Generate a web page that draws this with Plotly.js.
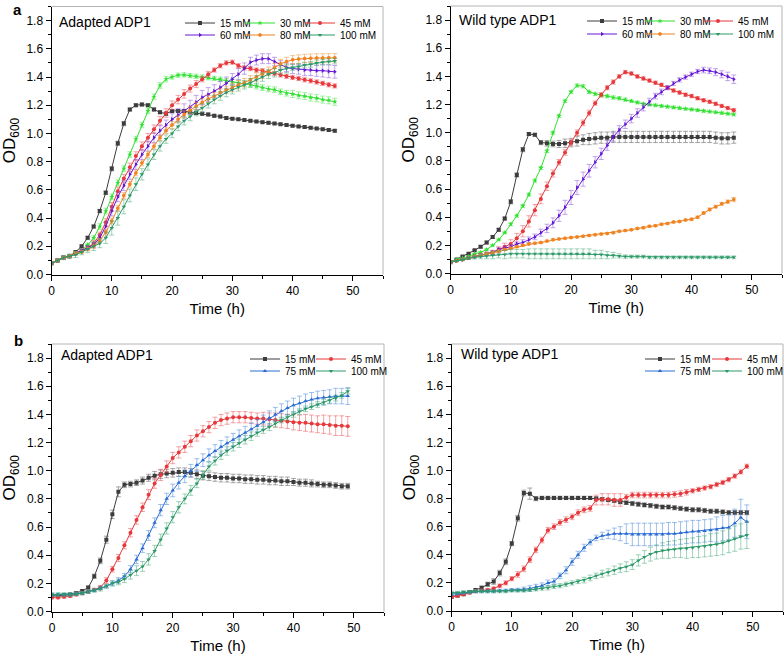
<!DOCTYPE html>
<html><head><meta charset="utf-8">
<script src="https://cdn.plot.ly/plotly-3.0.1.min.js"></script>
<style>html,body{margin:0;padding:0;background:#fff}#chart{width:784px;height:654px}</style>
</head><body><div id="chart"></div>
<script>
// ---------- time points (h) ----------
const hoursA = [0,1,2,3,4,5,6,7,8,9,10,11,12,13,14,15,16,17,18,19,20,21,22,23,24,25,26,27,28,29,30,31,32,33,34,35,36,37,38,39,40,41,42,43,44,45,46,47];
const hoursB = [0,1,2,3,4,5,6,7,8,9,10,11,12,13,14,15,16,17,18,19,20,21,22,23,24,25,26,27,28,29,30,31,32,33,34,35,36,37,38,39,40,41,42,43,44,45,46,47,48,49];

const namesA = ['15 mM','30 mM','45 mM','60 mM','80 mM','100 mM'];
const namesB = ['15 mM','45 mM','75 mM','100 mM'];

// ---------- panel a, Adapted ADP1 ----------
const adA_15 = [0.08,0.10,0.12,0.13,0.16,0.20,0.26,0.34,0.45,0.58, 0.75,0.93,1.07,1.17,1.20,1.205,1.20,1.17,1.15,1.14, 1.16,1.16,1.16,1.15,1.145,1.14,1.135,1.125,1.12,1.11, 1.105,1.10,1.095,1.09,1.085,1.08,1.075,1.07,1.065,1.06, 1.055,1.05,1.045,1.04,1.035,1.03,1.025,1.02];
const adA_30 = [0.08,0.10,0.12,0.13,0.15,0.17,0.21,0.26,0.34,0.45, 0.55,0.65,0.75,0.85,0.96,1.06,1.16,1.26,1.34,1.385, 1.40,1.413,1.415,1.41,1.405,1.40,1.395,1.39,1.385,1.375, 1.365,1.36,1.35,1.345,1.335,1.325,1.315,1.31,1.295,1.285, 1.28,1.27,1.265,1.255,1.25,1.24,1.235,1.225];
const adA_45 = [0.08,0.10,0.12,0.13,0.15,0.17,0.19,0.22,0.28,0.37, 0.48,0.59,0.68,0.76,0.84,0.91,0.97,1.03,1.09,1.145, 1.20,1.24,1.28,1.318,1.35,1.385,1.42,1.45,1.48,1.50, 1.505,1.48,1.465,1.46,1.45,1.445,1.435,1.425,1.415,1.405, 1.397,1.39,1.38,1.373,1.365,1.355,1.345,1.337];
const adA_60 = [0.08,0.10,0.12,0.13,0.15,0.17,0.19,0.21,0.26,0.34, 0.45,0.55,0.63,0.71,0.78,0.85,0.91,0.97,1.02,1.06, 1.10,1.13,1.16,1.185,1.22,1.255,1.275,1.30,1.325,1.355, 1.385,1.42,1.46,1.505,1.52,1.53,1.53,1.51,1.485,1.468, 1.46,1.455,1.45,1.45,1.445,1.445,1.44,1.437];
const adA_80 = [0.08,0.10,0.12,0.13,0.15,0.16,0.18,0.20,0.24,0.30, 0.38,0.47,0.56,0.64,0.72,0.79,0.85,0.91,0.97,1.02, 1.06,1.10,1.135,1.165,1.195,1.22,1.245,1.265,1.29,1.31, 1.326,1.345,1.36,1.38,1.40,1.42,1.44,1.465,1.495,1.51, 1.522,1.527,1.531,1.533,1.535,1.535,1.536,1.536];
const adA_100 = [0.08,0.10,0.12,0.13,0.14,0.16,0.18,0.20,0.22,0.26, 0.33,0.40,0.48,0.56,0.64,0.71,0.78,0.85,0.91,0.96, 1.00,1.05,1.09,1.12,1.155,1.18,1.21,1.24,1.265,1.29, 1.31,1.33,1.345,1.36,1.38,1.40,1.42,1.43,1.45,1.46, 1.468,1.475,1.485,1.49,1.50,1.505,1.51,1.513];

const errAdA_15 = [0.005,0.005,0.005,0.006,0.006,0.008,0.01,0.01,0.012,0.012, 0.015,0.015,0.015,0.01,0.01,0.01,0.01,0.01,0.01,0.01, 0.01,0.01,0.01,0.01,0.01,0.01,0.01,0.01,0.01,0.01, 0.008,0.008,0.008,0.008,0.008,0.008,0.008,0.008,0.008,0.008, 0.008,0.008,0.008,0.008,0.008,0.008,0.008,0.008];
const errAdA_30 = [0.01,0.01,0.01,0.01,0.01,0.01,0.012,0.015,0.02,0.02, 0.02,0.02,0.02,0.02,0.02,0.02,0.02,0.02,0.02,0.02, 0.015,0.015,0.015,0.015,0.015,0.015,0.015,0.015,0.015,0.015, 0.02,0.02,0.02,0.02,0.02,0.02,0.02,0.02,0.02,0.02, 0.025,0.025,0.025,0.025,0.025,0.025,0.025,0.025];
const errAdA_45 = [0.01,0.01,0.01,0.01,0.01,0.01,0.015,0.02,0.02,0.025, 0.03,0.03,0.03,0.03,0.03,0.03,0.03,0.03,0.03,0.03, 0.03,0.03,0.03,0.025,0.025,0.02,0.02,0.015,0.015,0.015, 0.015,0.015,0.015,0.015,0.015,0.015,0.015,0.015,0.015,0.015, 0.015,0.015,0.015,0.015,0.015,0.015,0.015,0.015];
const errAdA_60 = [0.01,0.01,0.01,0.01,0.01,0.01,0.015,0.02,0.025,0.03, 0.035,0.035,0.035,0.035,0.035,0.035,0.035,0.035,0.035,0.035, 0.04,0.045,0.05,0.05,0.05,0.05,0.05,0.045,0.045,0.045, 0.04,0.04,0.04,0.035,0.035,0.035,0.035,0.03,0.03,0.03, 0.035,0.035,0.04,0.04,0.04,0.045,0.045,0.045];
const errAdA_80 = [0.01,0.01,0.01,0.01,0.01,0.01,0.012,0.015,0.015,0.02, 0.02,0.02,0.02,0.02,0.02,0.02,0.02,0.02,0.02,0.02, 0.025,0.025,0.025,0.025,0.025,0.025,0.025,0.025,0.025,0.025, 0.03,0.03,0.03,0.03,0.03,0.03,0.03,0.03,0.03,0.03, 0.03,0.03,0.03,0.03,0.03,0.03,0.03,0.03];
const errAdA_100 = [0.01,0.01,0.015,0.015,0.02,0.02,0.025,0.03,0.03,0.04, 0.05,0.05,0.05,0.045,0.045,0.04,0.04,0.035,0.035,0.03, 0.03,0.03,0.03,0.03,0.03,0.03,0.03,0.03,0.03,0.03, 0.03,0.03,0.03,0.03,0.03,0.03,0.03,0.03,0.03,0.03, 0.02,0.02,0.02,0.02,0.02,0.02,0.02,0.02];

// ---------- panel a, Wild type ADP1 ----------
const wtA_15 = [0.08,0.10,0.12,0.14,0.165,0.19,0.22,0.26,0.31,0.39, 0.51,0.70,0.88,0.99,0.985,0.93,0.925,0.92,0.92,0.925, 0.93,0.94,0.95,0.955,0.96,0.965,0.965,0.97,0.97,0.97, 0.97,0.97,0.97,0.97,0.97,0.97,0.97,0.97,0.97,0.97, 0.97,0.97,0.97,0.97,0.965,0.96,0.96,0.965];
const wtA_30 = [0.08,0.10,0.11,0.12,0.14,0.15,0.17,0.20,0.24,0.29, 0.35,0.41,0.48,0.56,0.66,0.75,0.87,1.00,1.12,1.225, 1.29,1.335,1.33,1.29,1.275,1.265,1.26,1.25,1.245,1.235, 1.225,1.215,1.205,1.20,1.195,1.19,1.185,1.18,1.175,1.17, 1.165,1.16,1.155,1.15,1.145,1.14,1.135,1.13];
const wtA_45 = [0.08,0.09,0.10,0.11,0.12,0.13,0.14,0.15,0.17,0.19, 0.21,0.25,0.30,0.37,0.45,0.53,0.62,0.71,0.79,0.86, 0.93,1.00,1.07,1.14,1.21,1.27,1.32,1.36,1.40,1.43, 1.42,1.40,1.385,1.37,1.355,1.34,1.32,1.30,1.285,1.27, 1.26,1.245,1.23,1.22,1.205,1.19,1.175,1.16];
const wtA_60 = [0.08,0.09,0.10,0.11,0.12,0.13,0.14,0.15,0.17,0.18, 0.19,0.21,0.22,0.24,0.26,0.29,0.32,0.36,0.41,0.47, 0.54,0.61,0.67,0.73,0.79,0.85,0.91,0.97,1.02,1.06, 1.10,1.14,1.18,1.22,1.26,1.29,1.32,1.35,1.375,1.395, 1.415,1.435,1.445,1.44,1.43,1.415,1.40,1.38];
const wtA_80 = [0.08,0.09,0.10,0.11,0.12,0.13,0.14,0.15,0.16,0.17, 0.18,0.19,0.20,0.21,0.215,0.22,0.23,0.24,0.245,0.25, 0.255,0.26,0.265,0.27,0.275,0.28,0.285,0.29,0.30,0.305, 0.31,0.32,0.325,0.335,0.34,0.35,0.355,0.365,0.37,0.38, 0.385,0.40,0.43,0.455,0.475,0.495,0.51,0.525];
const wtA_100 = [0.08,0.09,0.10,0.11,0.115,0.12,0.125,0.13,0.135,0.135, 0.14,0.14,0.14,0.14,0.14,0.14,0.14,0.14,0.14,0.14, 0.14,0.14,0.14,0.14,0.135,0.135,0.13,0.13,0.125,0.12, 0.12,0.12,0.12,0.115,0.115,0.115,0.115,0.115,0.115,0.115, 0.115,0.115,0.115,0.115,0.115,0.115,0.115,0.115];

const errWtA_15 = [0.005,0.005,0.005,0.006,0.006,0.008,0.01,0.01,0.01,0.01, 0.015,0.015,0.015,0.01,0.01,0.015,0.02,0.02,0.025,0.03, 0.03,0.035,0.035,0.04,0.04,0.04,0.04,0.04,0.04,0.04, 0.04,0.04,0.04,0.04,0.04,0.04,0.04,0.04,0.04,0.04, 0.04,0.04,0.04,0.04,0.04,0.04,0.04,0.04];
const errWtA_30 = [0.005,0.005,0.005,0.005,0.005,0.005,0.005,0.005,0.005,0.005, 0.01,0.01,0.01,0.01,0.01,0.01,0.01,0.01,0.01,0.01, 0.01,0.012,0.012,0.012,0.012,0.012,0.012,0.012,0.012,0.012, 0.01,0.01,0.01,0.01,0.01,0.01,0.01,0.01,0.01,0.01, 0.01,0.01,0.01,0.01,0.01,0.01,0.01,0.01];
const errWtA_45 = [0.005,0.005,0.005,0.006,0.008,0.01,0.012,0.015,0.02,0.025, 0.03,0.035,0.04,0.04,0.04,0.035,0.03,0.025,0.02,0.02, 0.02,0.02,0.02,0.02,0.015,0.015,0.015,0.015,0.012,0.012, 0.012,0.012,0.012,0.012,0.012,0.012,0.012,0.012,0.012,0.012, 0.012,0.012,0.012,0.012,0.012,0.012,0.012,0.012];
const errWtA_60 = [0.005,0.005,0.005,0.006,0.008,0.01,0.01,0.012,0.012,0.015, 0.015,0.015,0.02,0.02,0.02,0.025,0.03,0.035,0.04,0.05, 0.05,0.05,0.05,0.045,0.04,0.04,0.035,0.03,0.03,0.03, 0.03,0.03,0.025,0.025,0.02,0.02,0.015,0.015,0.015,0.015, 0.015,0.015,0.02,0.02,0.025,0.025,0.03,0.03];
const errWtA_80 = [0.006,0.006,0.006,0.006,0.006,0.006,0.006,0.006,0.006,0.006, 0.006,0.006,0.006,0.006,0.006,0.006,0.006,0.006,0.006,0.006, 0.006,0.006,0.006,0.006,0.006,0.006,0.006,0.006,0.006,0.006, 0.006,0.006,0.006,0.006,0.006,0.006,0.006,0.006,0.006,0.006, 0.008,0.008,0.008,0.01,0.01,0.01,0.012,0.015];
const errWtA_100 = [0.005,0.005,0.008,0.01,0.012,0.015,0.02,0.025,0.025,0.03, 0.03,0.03,0.03,0.035,0.035,0.035,0.035,0.035,0.035,0.035, 0.035,0.035,0.035,0.035,0.03,0.03,0.025,0.02,0.015,0.012, 0.01,0.01,0.01,0.01,0.01,0.01,0.01,0.01,0.01,0.01, 0.01,0.01,0.01,0.01,0.01,0.01,0.01,0.01];

// ---------- panel b, Adapted ADP1 ----------
const adB_15 = [0.11,0.11,0.115,0.12,0.13,0.145,0.17,0.25,0.36,0.51, 0.69,0.85,0.90,0.905,0.915,0.93,0.95,0.965,0.975,0.98, 0.985,0.99,0.99,0.985,0.975,0.965,0.96,0.955,0.95,0.95, 0.945,0.945,0.94,0.94,0.935,0.935,0.93,0.93,0.925,0.925, 0.92,0.915,0.915,0.91,0.905,0.90,0.90,0.895,0.89,0.89];
const adB_45 = [0.10,0.10,0.105,0.11,0.12,0.13,0.14,0.155,0.17,0.22, 0.30,0.38,0.47,0.56,0.65,0.74,0.83,0.91,0.97,1.03, 1.09,1.13,1.17,1.21,1.25,1.28,1.31,1.34,1.36,1.37, 1.38,1.38,1.38,1.375,1.37,1.37,1.365,1.36,1.355,1.35, 1.345,1.34,1.34,1.335,1.33,1.33,1.325,1.32,1.32,1.315];
const adB_75 = [0.12,0.12,0.12,0.12,0.125,0.13,0.14,0.15,0.165,0.18, 0.20,0.22,0.25,0.30,0.37,0.45,0.54,0.63,0.72,0.80, 0.86,0.915,0.96,1.00,1.04,1.075,1.11,1.14,1.17,1.195, 1.22,1.245,1.27,1.295,1.32,1.345,1.375,1.40,1.425,1.445, 1.465,1.48,1.495,1.505,1.515,1.52,1.525,1.53,1.53,1.53];
const adB_100 = [0.12,0.12,0.12,0.12,0.125,0.13,0.14,0.15,0.16,0.18, 0.20,0.21,0.23,0.26,0.29,0.32,0.37,0.43,0.51,0.59, 0.67,0.74,0.80,0.86,0.91,0.97,1.03,1.07,1.11,1.14, 1.17,1.195,1.22,1.245,1.27,1.29,1.31,1.335,1.36,1.38, 1.40,1.42,1.44,1.455,1.47,1.485,1.50,1.515,1.535,1.565];

const errAdB_15 = [0.01,0.01,0.01,0.01,0.01,0.01,0.01,0.015,0.02,0.025, 0.03,0.035,0.02,0.02,0.02,0.025,0.025,0.03,0.03,0.03, 0.03,0.03,0.03,0.03,0.03,0.03,0.03,0.03,0.03,0.03, 0.03,0.03,0.03,0.03,0.03,0.03,0.03,0.03,0.03,0.03, 0.025,0.025,0.025,0.025,0.02,0.02,0.02,0.02,0.02,0.02];
const errAdB_45 = [0.01,0.01,0.01,0.01,0.01,0.01,0.01,0.01,0.015,0.02, 0.02,0.025,0.025,0.03,0.03,0.03,0.035,0.035,0.04,0.04, 0.04,0.04,0.04,0.04,0.04,0.04,0.04,0.04,0.04,0.04, 0.04,0.04,0.04,0.04,0.04,0.045,0.045,0.05,0.05,0.05, 0.055,0.055,0.06,0.06,0.06,0.065,0.065,0.07,0.07,0.07];
const errAdB_75 = [0.01,0.01,0.01,0.01,0.01,0.01,0.01,0.01,0.01,0.012, 0.015,0.02,0.02,0.025,0.03,0.03,0.035,0.035,0.04,0.04, 0.045,0.045,0.045,0.045,0.045,0.045,0.045,0.045,0.045,0.045, 0.045,0.045,0.045,0.045,0.045,0.05,0.05,0.05,0.05,0.05, 0.05,0.05,0.05,0.05,0.05,0.05,0.05,0.055,0.055,0.06];
const errAdB_100 = [0.012,0.012,0.012,0.012,0.012,0.012,0.012,0.012,0.015,0.015, 0.02,0.02,0.025,0.03,0.035,0.035,0.04,0.04,0.04,0.04, 0.04,0.04,0.035,0.035,0.03,0.03,0.03,0.03,0.03,0.03, 0.03,0.03,0.03,0.03,0.025,0.025,0.025,0.025,0.02,0.02, 0.02,0.02,0.02,0.02,0.02,0.02,0.02,0.02,0.02,0.02];

// ---------- panel b, Wild type ADP1 ----------
const wtB_15 = [0.10,0.11,0.12,0.135,0.15,0.165,0.19,0.21,0.27,0.35, 0.48,0.66,0.84,0.835,0.80,0.805,0.805,0.805,0.805,0.805, 0.805,0.805,0.805,0.805,0.80,0.795,0.79,0.785,0.775,0.77, 0.765,0.76,0.755,0.75,0.745,0.74,0.74,0.735,0.73,0.725, 0.72,0.72,0.715,0.71,0.71,0.705,0.70,0.70,0.70,0.70];
const wtB_45 = [0.10,0.11,0.12,0.13,0.14,0.145,0.15,0.16,0.18,0.20, 0.23,0.26,0.30,0.365,0.435,0.505,0.575,0.60,0.63,0.65, 0.67,0.70,0.72,0.73,0.79,0.795,0.795,0.79,0.79,0.81, 0.825,0.825,0.825,0.825,0.825,0.825,0.825,0.83,0.835,0.845, 0.855,0.865,0.875,0.885,0.90,0.915,0.935,0.96,0.99,1.03];
const wtB_75 = [0.12,0.125,0.13,0.135,0.14,0.14,0.14,0.14,0.145,0.145, 0.15,0.15,0.155,0.16,0.17,0.18,0.20,0.21,0.25,0.29, 0.35,0.40,0.45,0.49,0.52,0.535,0.545,0.55,0.55,0.55, 0.545,0.545,0.545,0.545,0.545,0.545,0.55,0.55,0.555,0.56, 0.565,0.565,0.57,0.575,0.58,0.59,0.595,0.625,0.665,0.635];
const wtB_100 = [0.13,0.13,0.135,0.135,0.14,0.14,0.14,0.14,0.14,0.14, 0.145,0.145,0.145,0.15,0.155,0.16,0.165,0.175,0.18,0.19, 0.20,0.21,0.22,0.235,0.25,0.265,0.275,0.29,0.305,0.315, 0.33,0.36,0.385,0.405,0.42,0.43,0.435,0.44,0.445,0.445, 0.45,0.455,0.46,0.47,0.475,0.485,0.50,0.515,0.53,0.54];

const errWtB_15 = [0.01,0.01,0.01,0.01,0.01,0.012,0.015,0.02,0.02,0.02, 0.015,0.02,0.02,0.04,0.015,0.012,0.012,0.012,0.012,0.012, 0.012,0.012,0.012,0.012,0.012,0.012,0.012,0.012,0.012,0.012, 0.015,0.015,0.015,0.015,0.015,0.015,0.015,0.015,0.015,0.015, 0.015,0.015,0.015,0.015,0.015,0.015,0.015,0.015,0.015,0.015];
const errWtB_45 = [0.01,0.01,0.01,0.01,0.01,0.01,0.01,0.01,0.012,0.015, 0.015,0.02,0.02,0.02,0.02,0.02,0.02,0.02,0.02,0.02, 0.02,0.02,0.02,0.02,0.035,0.04,0.04,0.045,0.045,0.02, 0.02,0.02,0.02,0.02,0.02,0.02,0.02,0.02,0.02,0.02, 0.015,0.015,0.015,0.015,0.015,0.015,0.015,0.015,0.015,0.015];
const errWtB_75 = [0.01,0.01,0.01,0.01,0.01,0.01,0.01,0.01,0.01,0.01, 0.01,0.012,0.015,0.02,0.02,0.02,0.02,0.02,0.02,0.025, 0.025,0.025,0.025,0.02,0.02,0.025,0.03,0.04,0.05,0.07, 0.08,0.08,0.08,0.08,0.08,0.08,0.08,0.08,0.08,0.08, 0.08,0.08,0.08,0.08,0.09,0.09,0.09,0.1,0.13,0.12];
const errWtB_100 = [0.01,0.01,0.01,0.01,0.01,0.01,0.01,0.01,0.01,0.01, 0.01,0.01,0.01,0.01,0.012,0.012,0.015,0.015,0.015,0.015, 0.015,0.015,0.02,0.02,0.02,0.025,0.025,0.03,0.03,0.035, 0.035,0.04,0.045,0.05,0.05,0.055,0.06,0.06,0.065,0.07, 0.07,0.075,0.075,0.08,0.08,0.085,0.085,0.09,0.09,0.095];

// ---------- styles ----------
const styleBy = {
  '15 mM':  {c:'#3c3c3c', e:'rgba(110,110,110,0.6)', s:'square'},
  '30 mM':  {c:'#2fe02f', e:'rgba(90,230,90,0.55)',  s:'star'},
  '45 mM':  {c:'#e8383b', e:'rgba(235,90,95,0.55)',  s:'circle'},
  '60 mM':  {c:'#6416d6', e:'rgba(140,80,220,0.5)',  s:'triangle-right'},
  '80 mM':  {c:'#f08220', e:'rgba(240,150,60,0.55)', s:'hexagon'},
  '100 mM': {c:'#2c9a68', e:'rgba(70,170,120,0.5)',  s:'triangle-down'},
  '75 mM':  {c:'#2a6cd4', e:'rgba(80,140,220,0.55)', s:'triangle-up'}
};

const panels = [
  {xa:'x',  ya:'y',  t:hoursA, names:namesA, ys:[adA_15,adA_30,adA_45,adA_60,adA_80,adA_100], es:[errAdA_15,errAdA_30,errAdA_45,errAdA_60,errAdA_80,errAdA_100], legs:['legend','legend','legend','legend2','legend2','legend2'], last:[2,5]},
  {xa:'x2', ya:'y2', t:hoursA, names:namesA, ys:[wtA_15,wtA_30,wtA_45,wtA_60,wtA_80,wtA_100], es:[errWtA_15,errWtA_30,errWtA_45,errWtA_60,errWtA_80,errWtA_100], legs:['legend3','legend3','legend3','legend4','legend4','legend4'], last:[2,5]},
  {xa:'x3', ya:'y3', t:hoursB, names:namesB, ys:[adB_15,adB_45,adB_75,adB_100], es:[errAdB_15,errAdB_45,errAdB_75,errAdB_100], legs:['legend5','legend5','legend6','legend6'], last:[1,3]},
  {xa:'x4', ya:'y4', t:hoursB, names:namesB, ys:[wtB_15,wtB_45,wtB_75,wtB_100], es:[errWtB_15,errWtB_45,errWtB_75,errWtB_100], legs:['legend7','legend7','legend8','legend8'], last:[1,3]}
];

const traces = [];
panels.forEach(p => {
  p.names.forEach((nm, i) => {
    const st = styleBy[nm];
    const tr = {
      type:'scatter', mode:'lines+markers', name:nm,
      x:p.t, y:p.ys[i], xaxis:p.xa, yaxis:p.ya, legend:p.legs[i],
      line:{color:st.c, width:1},
      marker:{color:st.c, symbol:st.s, size:4, line:{width:0}},
      error_y:{type:'data', array:p.es[i], visible:true, color:st.e, thickness:1, width:2.5},
      hoverinfo:'skip'
    };
    if (p.last.indexOf(i) >= 0) tr.legendwidth = 40;
    traces.push(tr);
  });
});

const W = 784, H = 654;
const FONT = 'Arial, "Liberation Sans", sans-serif';
function xAxis(l, r, yref) {
  return {domain:[l/W, r/W], anchor:yref, range:[0,55], tick0:0, dtick:10,
    ticks:'outside', ticklen:5, tickwidth:1, tickcolor:'#000',
    minor:{dtick:5, ticks:'outside', ticklen:3, tickwidth:1, tickcolor:'#000'},
    showline:true, linecolor:'#000', linewidth:1, mirror:false, showgrid:false, zeroline:false,
    tickfont:{size:12, color:'#000'},
    title:{text:'Time (h)', font:{size:15, color:'#000'}, standoff:6}};
}
function yAxis(top, bot, xref) {
  return {domain:[1-bot/H, 1-top/H], anchor:xref, range:[0,1.9], tick0:0, dtick:0.2, tickformat:'.1f',
    ticks:'outside', ticklen:5, tickwidth:1, tickcolor:'#000',
    minor:{dtick:0.1, ticks:'outside', ticklen:3, tickwidth:1, tickcolor:'#000'},
    showline:true, linecolor:'#000', linewidth:1, showgrid:false, zeroline:false,
    tickfont:{size:12, color:'#000'},
    title:{text:'OD<sub>600</sub>', font:{size:17, color:'#000'}, standoff:6}};
}
function leg(xpx, ypx, ew) {
  return {x:xpx/W, y:1-ypx/H, xanchor:'left', yanchor:'middle', orientation:'h',
    entrywidth:ew, entrywidthmode:'pixels', bgcolor:'rgba(0,0,0,0)', borderwidth:0,
    font:{size:10, color:'#000'}, itemwidth:30, traceorder:'normal'};
}
function frame(xr, yr) {
  return [
    {type:'line', xref:xr+' domain', yref:yr+' domain', x0:0, x1:1, y0:1, y1:1, line:{color:'#b4b4b4', width:1}},
    {type:'line', xref:xr+' domain', yref:yr+' domain', x0:1, x1:1, y0:0, y1:1, line:{color:'#b4b4b4', width:1}}
  ];
}
function ann(text, xpx, ypx, size, anchorY) {
  return {text:text, x:xpx/W, y:1-ypx/H, xref:'paper', yref:'paper', xanchor:'left', yanchor:anchorY||'middle',
    showarrow:false, font:{size:size, color:'#000', family:FONT}};
}

const layout = {
  width:W, height:H, margin:{l:0, r:0, t:0, b:0, autoexpand:false},
  paper_bgcolor:'#fff', plot_bgcolor:'#fff',
  font:{family:FONT, color:'#000'},
  showlegend:true, hovermode:false,
  xaxis: xAxis(51.5, 383, 'y'),   yaxis: yAxis(6.5, 274.5, 'x'),
  xaxis2: xAxis(450.5, 782, 'y2'), yaxis2: yAxis(6, 273.5, 'x2'),
  xaxis3: xAxis(52, 384, 'y3'),   yaxis3: yAxis(344, 611.5, 'x3'),
  xaxis4: xAxis(451.5, 783, 'y4'), yaxis4: yAxis(344, 611, 'x4'),
  legend: leg(180, 23, 15),  legend2: leg(180, 35, 15),
  legend3: leg(582, 21, 13), legend4: leg(582, 34, 13),
  legend5: leg(245, 359, 21), legend6: leg(245, 371, 21),
  legend7: leg(640, 359, 22), legend8: leg(640, 371, 22),
  shapes: [].concat(frame('x','y'), frame('x2','y2'), frame('x3','y3'), frame('x4','y4')),
  annotations: [
    ann('<b>a</b>', 11, -1, 15, 'top'),
    ann('<b>b</b>', 12, 330, 15, 'top'),
    ann('Adapted ADP1', 57, 22, 14),
    ann('Wild type ADP1', 457, 20, 14),
    ann('Adapted ADP1', 59, 355, 14),
    ann('Wild type ADP1', 459, 354, 14)
  ]
};

Plotly.newPlot('chart', traces, layout, {displayModeBar:false, staticPlot:true});
</script>
</body></html>
